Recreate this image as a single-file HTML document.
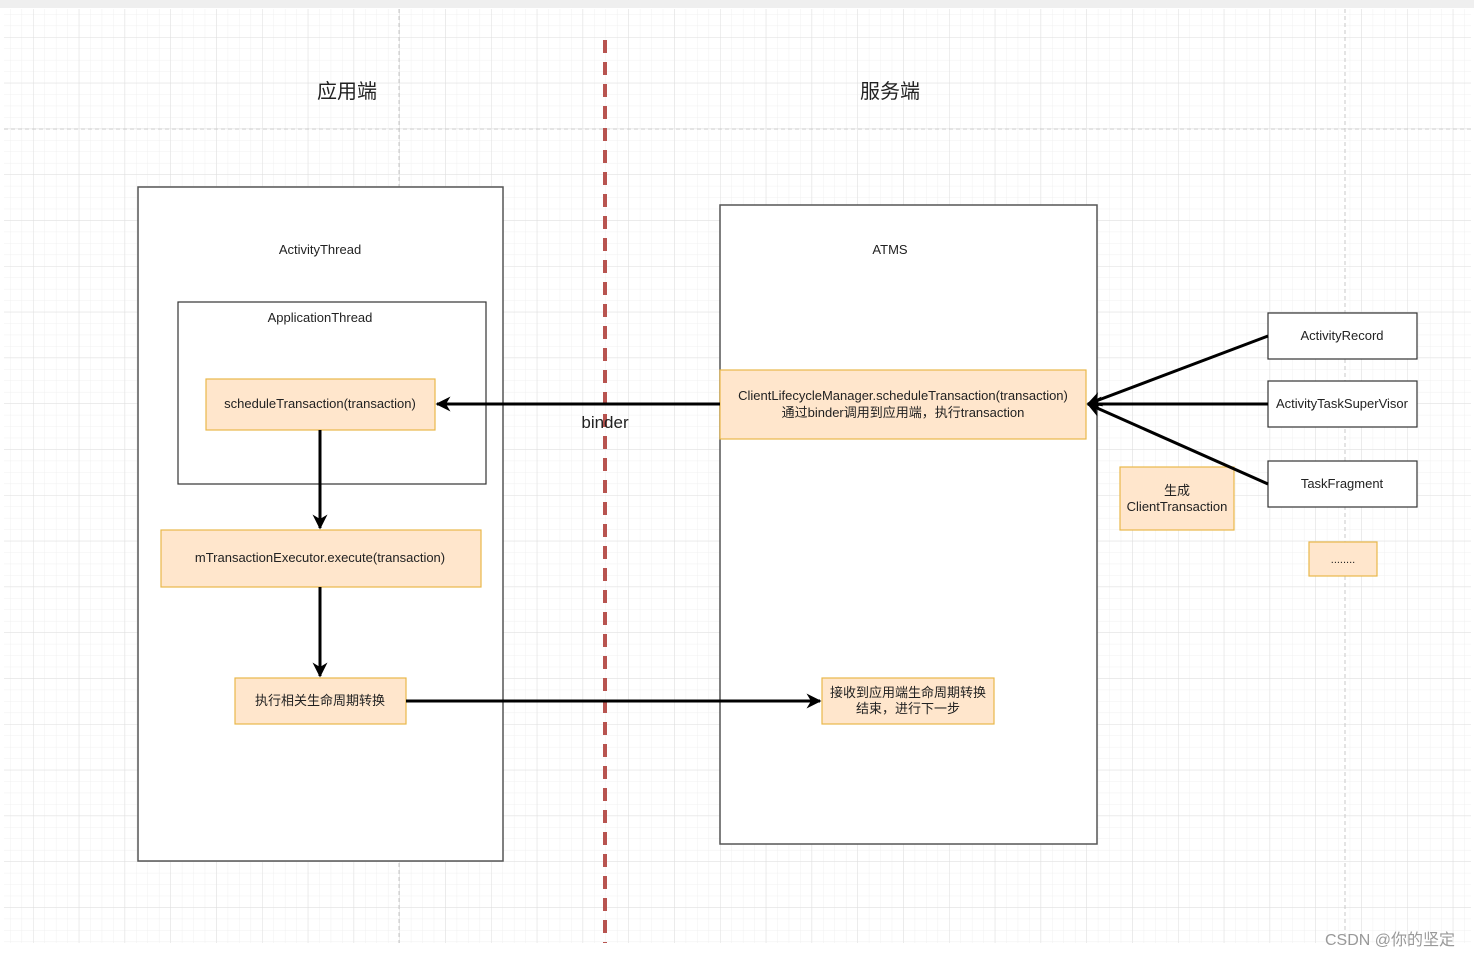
<!DOCTYPE html>
<html><head><meta charset="utf-8"><style>
html,body{margin:0;padding:0;background:#fff}
svg{display:block}
text{font-family:"Liberation Sans","Noto Sans CJK SC",sans-serif;fill:#222}
</style></head><body>
<svg width="1474" height="957" viewBox="0 0 1474 957" xmlns="http://www.w3.org/2000/svg">
<defs>
<pattern id="minor" x="33" y="37" width="11.45" height="11.45" patternUnits="userSpaceOnUse">
<path d="M0 0H11.45M0 0V11.45" stroke="#f0f0f0" stroke-width="1" fill="none"/>
</pattern>
<pattern id="major" x="33" y="37" width="45.8" height="45.8" patternUnits="userSpaceOnUse">
<path d="M0 0H45.8M0 0V45.8" stroke="#dedede" stroke-width="1" fill="none"/>
</pattern>
<marker id="ah" viewBox="0 0 10 10" refX="9" refY="5" markerWidth="5" markerHeight="5" orient="auto" markerUnits="strokeWidth">
<path d="M0 0L10 5L0 10L3 5Z" fill="#000"/>
</marker>
</defs>
<rect x="0" y="0" width="1474" height="8" fill="#efefef"/>
<rect x="4" y="9" width="1467" height="934" fill="url(#minor)"/>
<rect x="4" y="9" width="1467" height="934" fill="url(#major)"/>
<line x1="4" y1="129" x2="1471" y2="129" stroke="#c8c8c8" stroke-dasharray="4 3"/>
<line x1="399" y1="9" x2="399" y2="943" stroke="#c8c8c8" stroke-dasharray="4 3"/>
<line x1="1345" y1="9" x2="1345" y2="943" stroke="#c8c8c8" stroke-dasharray="4 3"/>

<text x="347" y="98" font-size="20" text-anchor="middle">应用端</text>
<text x="890" y="98" font-size="20" text-anchor="middle">服务端</text>

<rect x="138" y="187" width="365" height="674" fill="#fff" stroke="#555" stroke-width="1.5"/>
<text x="320" y="254" font-size="13" text-anchor="middle">ActivityThread</text>
<rect x="178" y="302" width="308" height="182" fill="#fff" stroke="#333" stroke-width="1.2"/>
<text x="320" y="322" font-size="13" text-anchor="middle">ApplicationThread</text>

<rect x="720" y="205" width="377" height="639" fill="#fff" stroke="#555" stroke-width="1.5"/>
<text x="890" y="254" font-size="13" text-anchor="middle">ATMS</text>

<line x1="605" y1="40" x2="605" y2="943" stroke="#b85450" stroke-width="4" stroke-dasharray="13 9"/>

<rect x="206" y="379" width="229" height="51" fill="#ffe6cc" stroke="#e8b84a" stroke-width="1.2"/>
<text x="320" y="408" font-size="13" text-anchor="middle">scheduleTransaction(transaction)</text>
<rect x="161" y="530" width="320" height="57" fill="#ffe6cc" stroke="#e8b84a" stroke-width="1.2"/>
<text x="320" y="562" font-size="13" text-anchor="middle">mTransactionExecutor.execute(transaction)</text>
<rect x="235" y="678" width="171" height="46" fill="#ffe6cc" stroke="#e8b84a" stroke-width="1.2"/>
<text x="320" y="705" font-size="13" text-anchor="middle">执行相关生命周期转换</text>

<rect x="720" y="370" width="366" height="69" fill="#ffe6cc" stroke="#e8b84a" stroke-width="1.2"/>
<text x="903" y="400" font-size="13" text-anchor="middle">ClientLifecycleManager.scheduleTransaction(transaction)</text>
<text x="903" y="417" font-size="13" text-anchor="middle">通过binder调用到应用端，执行transaction</text>

<rect x="822" y="678" width="172" height="46" fill="#ffe6cc" stroke="#e8b84a" stroke-width="1.2"/>
<text x="908" y="697" font-size="13" text-anchor="middle">接收到应用端生命周期转换</text>
<text x="908" y="713" font-size="13" text-anchor="middle">结束，进行下一步</text>

<rect x="1268" y="313" width="149" height="46" fill="#fff" stroke="#333" stroke-width="1.2"/>
<text x="1342" y="340" font-size="13" text-anchor="middle">ActivityRecord</text>
<rect x="1268" y="381" width="149" height="46" fill="#fff" stroke="#333" stroke-width="1.2"/>
<text x="1342" y="408" font-size="13" text-anchor="middle">ActivityTaskSuperVisor</text>
<rect x="1268" y="461" width="149" height="46" fill="#fff" stroke="#333" stroke-width="1.2"/>
<text x="1342" y="488" font-size="13" text-anchor="middle">TaskFragment</text>

<rect x="1120" y="467" width="114" height="63" fill="#ffe6cc" stroke="#e8b84a" stroke-width="1.2"/>
<text x="1177" y="495" font-size="13" text-anchor="middle">生成</text>
<text x="1177" y="511" font-size="13" text-anchor="middle">ClientTransaction</text>
<rect x="1309" y="542" width="68" height="34" fill="#ffe6cc" stroke="#e8b84a" stroke-width="1.2"/>
<text x="1343" y="563" font-size="11" text-anchor="middle" fill="#555">........</text>

<g stroke="#000" stroke-width="3" fill="none">
<line x1="720" y1="404" x2="437" y2="404" marker-end="url(#ah)"/>
<line x1="320" y1="430" x2="320" y2="528" marker-end="url(#ah)"/>
<line x1="320" y1="587" x2="320" y2="676" marker-end="url(#ah)"/>
<line x1="406" y1="701" x2="820" y2="701" marker-end="url(#ah)"/>
<line x1="1268" y1="336" x2="1088" y2="404" marker-end="url(#ah)"/>
<line x1="1268" y1="404" x2="1088" y2="404" marker-end="url(#ah)"/>
<line x1="1268" y1="484" x2="1088" y2="404" marker-end="url(#ah)"/>
</g>
<text x="605" y="428" font-size="17" text-anchor="middle">binder</text>

<text x="1390" y="945" font-size="16" text-anchor="middle" fill="#888" style="fill:#999">CSDN @你的坚定</text>
</svg>
</body></html>
